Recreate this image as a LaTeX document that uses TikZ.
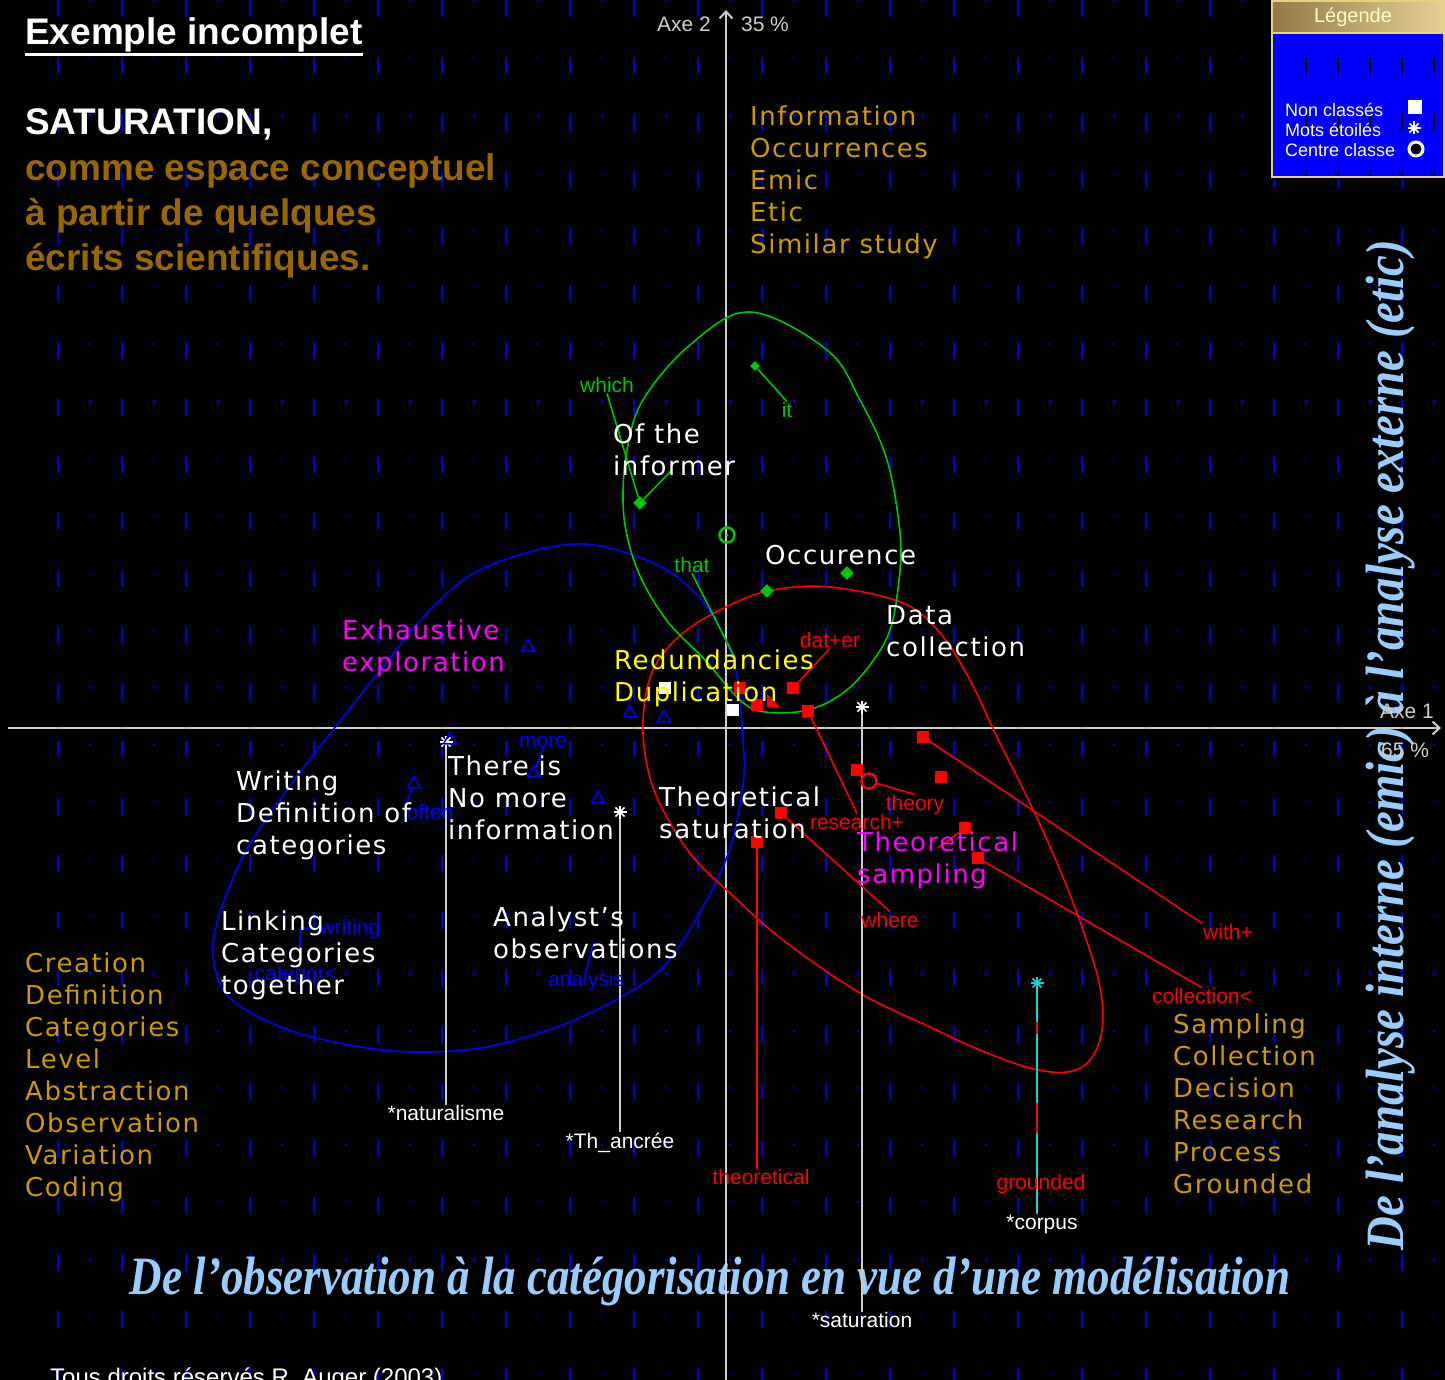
\documentclass[tikz,border=0pt]{standalone}
\usepackage{fontspec}
\usepackage{graphicx}
\usetikzlibrary{shapes.geometric,arrows.meta}
\newfontfamily\arialf{Liberation Sans}
\newfontfamily\verdf[LetterSpace=6]{DejaVu Sans}
\newfontfamily\timesf{Liberation Serif}
\newcommand\scrf{\timesf\bfseries\itshape\fontsize{54}{54}\selectfont}
\definecolor{gridblue}{RGB}{0,0,210}
\definecolor{gold}{RGB}{204,153,0}
\definecolor{brownt}{RGB}{153,102,0}
\definecolor{skyb}{RGB}{153,204,255}
\definecolor{axgrey}{RGB}{205,205,205}
\definecolor{grn}{RGB}{0,200,0}
\definecolor{cyn}{RGB}{0,220,220}
\definecolor{mag}{RGB}{255,0,255}
\definecolor{yel}{RGB}{255,255,0}
\definecolor{tickyel}{RGB}{200,200,0}
\definecolor{legblue}{RGB}{0,0,255}
\definecolor{legtanA}{RGB}{150,120,70}
\definecolor{legtanB}{RGB}{228,208,150}
\definecolor{legedge}{RGB}{230,210,120}
\tikzset{
  astk/.pic={\foreach \a in {0,45,90,135} \draw[line width=1.6pt] (\a:6.5pt) -- (\a+180:6.5pt);},
}

\begin{document}
\begin{tikzpicture}[x=1pt,y=-1pt,
  big/.style={font=\verdf\fontsize{26}{32}\selectfont, inner sep=0pt, align=left, anchor=north west},
  small/.style={font=\arialf\fontsize{21}{21}\selectfont, inner sep=0.5pt},
  axlab/.style={font=\arialf\fontsize{21}{21}\selectfont, text=axgrey, inner sep=0pt},
  legtxt/.style={font=\arialf\fontsize{18}{18}\selectfont, text=white, inner sep=0pt, anchor=west},
  griddash/.style={gridblue, line width=2.2pt, dash pattern=on 17pt off 40pt},
  griddot/.style={gridblue, line width=2.2pt, dash pattern=on 2.2pt off 55pt},
  axisln/.style={axgrey, line width=2pt, -{Straight Barb[length=7pt,width=13pt]}},
  wline/.style={axgrey, line width=2pt},
  rline/.style={red, line width=1.6pt},
  gline/.style={grn, line width=1.6pt},
  bline/.style={blue, line width=1.6pt},
  rsq/.style={rectangle, fill=red, minimum size=12pt, inner sep=0pt},
  wsq/.style={rectangle, fill=white, minimum size=12pt, inner sep=0pt},
  gdia/.style={diamond, fill=grn, minimum size=14pt, inner sep=0pt},
  btri/.style={regular polygon, regular polygon sides=3, draw=blue, line width=1.5pt, minimum size=15pt, inner sep=0pt},
]
% background and grid
\fill[black] (0,0) rectangle (1445,1380);
\useasboundingbox (0,0) rectangle (1445,1380);
\foreach \gx in {58,122,...,1402} \draw[griddash] (\gx,0) -- (\gx,1380);
\foreach \gx in {90,154,...,1434} \draw[griddot] (\gx,0) -- (\gx,1380);

% script headings
\node[text=skyb, inner sep=0pt] (scrBot) at (710,1281)
  {\resizebox{1160pt}{\height}{\scrf De l’observation à la catégorisation en vue d’une modélisation}};
\node[text=skyb, inner sep=0pt, rotate=90] (scrSide) at (1391,745)
  {\resizebox{1010pt}{\height}{\scrf De l’analyse interne (emic) à l’analyse externe (etic)}};

% axes
\coordinate (axHa) at (8,728);
\coordinate (axHb) at (1441,728);
\coordinate (axVa) at (726,1380);
\coordinate (axVb) at (726,10);
\draw[axisln] (axHa) -- (axHb);
\draw[axisln] (axVa) -- (axVb);
\foreach \gx in {58,122,...,1402} \fill[tickyel] (\gx-1,727) rectangle (\gx+1,729);
\node[axlab] (ax2n) at (684,24) {Axe 2};
\node[axlab] (ax2p) at (765,24) {35 \%};
\node[axlab] (ax1n) at (1407,711) {Axe 1};
\node[axlab] (ax1p) at (1405,750) {65 \%};

% class contours
\draw[blue, line width=1.6pt] plot[smooth cycle, tension=0.6] coordinates {
  (575,544) (646,560) (689,587) (718,625) (736,672) (743,740) (743,784) (729,851)
  (700,912) (664,966) (621,997) (557,1027) (486,1047) (421,1052) (361,1047) (289,1030)
  (232,1000) (214,963) (218,919) (246,851) (289,787) (336,726) (379,672) (432,608) (486,567)};
\draw[red, line width=1.6pt] plot[smooth cycle, tension=0.6] coordinates {
  (830,587) (903,603) (940,633) (970,680) (997,737) (1030,803) (1060,870) (1083,930)
  (1100,987) (1102,1030) (1090,1060) (1067,1072) (1030,1068) (980,1050) (930,1027)
  (860,993) (783,940) (730,893) (693,857) (663,810) (648,770) (643,720) (653,670)
  (683,633) (730,605) (773,590)};
\draw[grn, line width=1.6pt] plot[smooth cycle, tension=0.6] coordinates {
  (750,312) (827,350) (860,400) (887,460) (900,533) (899,580) (890,630) (870,665)
  (843,693) (808,710) (765,712) (740,700) (705,660) (668,622) (642,580) (628,540)
  (623,500) (627,450) (643,400) (690,345)};

% starred words
\coordinate (stNat) at (446,742);
\coordinate (stTh) at (620,812);
\coordinate (stSat) at (862,707);
\coordinate (stCorp) at (1037,983);
\node[small, text=white] (lbNat) at (446,1113) {*naturalisme};
\node[small, text=white] (lbTh) at (620,1143) {*Th\_ancrée};
\node[small, text=white] (lbSat) at (862,1320) {*saturation};
\node[small, text=white] (lbCorp) at (1042,1224) {*corpus};
\draw[wline] (stNat) -- (stNat |- lbNat.north);
\draw[wline] (stTh) -- (stTh |- lbTh.north);
\draw[wline] (stSat) -- (stSat |- lbSat.north);
\draw[cyn, line width=2pt] (stCorp) -- (stCorp |- lbCorp.north);
\draw[red, line width=2pt] (stCorp) ++(0,39) -- ++(0,12);
\draw[red, line width=2pt] (stCorp) ++(0,120) -- ++(0,30);
\pic[white] at (stNat) {astk};
\pic[white] at (stTh) {astk};
\pic[white] at (stSat) {astk};
\pic[cyn] at (stCorp) {astk};

% red class
\node[rsq] (rs1) at (740,688) {};
\node[rsq] (rs2) at (757,705) {};
\node[rsq] (rs3) at (793,688) {};
\node[rsq] (rs4) at (808,711) {};
\node[rsq] (rs5) at (923,737) {};
\node[rsq] (rs6) at (941,777) {};
\node[rsq] (rs7) at (857,770) {};
\node[rsq] (rs8) at (965,828) {};
\node[rsq] (rs9) at (978,858) {};
\node[rsq] (rs10) at (781,813) {};
\node[rsq] (rs11) at (757,842) {};
\fill[red] (767,694) -- (780,707) -- (767,707) -- cycle;
\node[circle, draw=red, line width=2.5pt, minimum size=15pt, inner sep=0pt] (rCen) at (869,781) {};
\coordinate (rEnd8) at (938,848);
\node[small, text=red] (lbDater) at (830,640) {dat+er};
\node[small, text=red] (lbTheory) at (915,805) {theory};
\node[small, text=red] (lbRes) at (857,822) {research+};
\node[small, text=red] (lbWhere) at (890,920) {where};
\node[small, text=red] (lbWith) at (1228,932) {with+};
\node[small, text=red] (lbColl) at (1202,996) {collection<};
\node[small, text=red] (lbTheo) at (761,1177) {theoretical};
\node[small, text=red] (lbGrnd) at (1041,1184) {grounded};
\draw[rline] (rs3) -- (lbDater.south);
\draw[rline] (rs4) -- (lbRes.north);
\draw[rline] (rs5) -- (lbWith.north west);
\draw[rline] (rCen) -- (lbTheory.north);
\draw[rline] (rs8) -- (rEnd8);
\draw[rline] (rs9) -- (lbColl.north);
\draw[rline] (rs10) -- (lbWhere.north);
\draw[red, line width=2pt] (rs11) -- (rs11 |- lbTheo.north);

% green class
\node[gdia] (gd1) at (640,503) {};
\node[gdia] (gd2) at (767,591) {};
\node[gdia] (gd3) at (847,573) {};
\node[gdia, minimum size=10pt] (gd4) at (755,366) {};
\node[circle, draw=grn, line width=2.5pt, minimum size=15pt, inner sep=0pt] (gCen) at (727,535) {};
\fill[grn] (gCen) circle (1.5pt);
\coordinate (gEnd1) at (672,470);
\coordinate (gEnd2) at (735,658);
\node[small, text=grn] (lbWhich) at (607,385) {which};
\node[small, text=grn] (lbIt) at (787,410) {it};
\node[small, text=grn] (lbThat) at (692,565) {that};
\draw[gline] (lbWhich.south) -- (gd1) -- (gEnd1);
\draw[gline] (gd4) -- (lbIt.north);
\draw[gline] (lbThat.south) -- (gEnd2);

% blue class
\node[btri] (bt1) at (528,647) {};
\node[btri] (bt2) at (414,784) {};
\node[btri] (bt3) at (598,799) {};
\node[btri] (bt4) at (630,713) {};
\node[btri] (bt5) at (664,718) {};
\node[btri] (bt6) at (450,740) {};
\node[btri] (bt7) at (534,773) {};
\coordinate (bEndA) at (594,942);
\coordinate (bW1) at (300,958);
\coordinate (bW2) at (300,928);
\node[small, text=blue] (lbMore) at (543,742) {more};
\node[small, text=blue] (lbOften) at (430,812) {often};
\node[small, text=blue] (lbWrit) at (350,929) {writing};
\node[small, text=blue] (lbCat) at (296,976) {categor<};
\node[small, text=blue] (lbAnal) at (586,981) {analysis};
\draw[bline] (bt2) -- (lbOften.north west);
\draw[bline] (lbMore.south) -- (bt7);
\draw[bline] (lbAnal.north) -- (bEndA);
\draw[bline] (bW1) -- (bW2) -- (lbWrit.west);

% unclassified
\node[wsq] (ws1) at (665,688) {};
\node[wsq] (ws2) at (733,710) {};

% concept labels
\node[big, text=gold] (kwInfo) at (750,106) {Information\\Occurrences\\Emic\\Etic\\Similar study};
\node[big, text=white] (kwInf) at (613,424) {Of the\\informer};
\node[big, text=white] (kwOcc) at (765,545) {Occurence};
\node[big, text=white] (kwData) at (886,605) {Data\\collection};
\node[big, text=mag] (kwExh) at (342,620) {Exhaustive\\exploration};
\node[big, text=yel] (kwRed) at (614,650) {Redundancies\\Duplication};
\node[big, text=white] (kwWrit) at (236,771) {Writing\\Definition of\\categories};
\node[big, text=white] (kwNoMore) at (448,756) {There is\\No more\\information};
\node[big, text=white] (kwSat) at (659,787) {Theoretical\\saturation};
\node[big, text=mag] (kwSamp) at (857,832) {Theoretical\\sampling};
\node[big, text=white] (kwLink) at (221,911) {Linking\\Categories\\together};
\node[big, text=white] (kwAnal) at (493,907) {Analyst’s\\observations};
\node[big, text=gold] (kwLeft) at (25,953) {Creation\\Definition\\Categories\\Level\\Abstraction\\Observation\\Variation\\Coding};
\node[big, text=gold] (kwRight) at (1173,1014) {Sampling\\Collection\\Decision\\Research\\Process\\Grounded};

% title block
\node[font=\arialf\bfseries\fontsize{37}{37}\selectfont, text=white, anchor=base west, inner sep=0pt] (ttlA) at (25,45) {Exemple incomplet};
\draw[white, line width=2.5pt] ([yshift=-1.5pt]ttlA.south west) -- ([yshift=-1.5pt]ttlA.south east);
\node[font=\arialf\bfseries\fontsize{37}{45}\selectfont, text=white, anchor=base west, inner sep=0pt] (ttlB) at (25,135) {SATURATION,};
\node[font=\arialf\bfseries\fontsize{37}{45}\selectfont, text=brownt, anchor=north west, inner sep=0pt, align=left] (ttlC) at (25,153)
  {comme espace conceptuel\\à partir de quelques\\écrits scientifiques.};
\node[font=\arialf\fontsize{24}{24}\selectfont, text=white, anchor=base west, inner sep=0pt] (copyR) at (50,1385) {Tous droits réservés R. Auger (2003)};

% legend
\shade[left color=legtanA, right color=legtanB] (1272,1) rectangle (1444,33);
\fill[legblue] (1272,33) rectangle (1444,177);
\begin{scope}
  \clip (1273,34) rectangle (1443,176);
  \foreach \gx in {1306,1338,...,1434} \draw[black, line width=2.2pt, dash pattern=on 17pt off 40pt] (\gx,0) -- (\gx,180);
\end{scope}
\draw[legedge, line width=2pt] (1272,1) rectangle (1444,177);
\draw[legedge, line width=1.5pt] (1272,33) -- (1444,33);
\node[font=\arialf\fontsize{20}{20}\selectfont, text=yel!20!white, inner sep=0pt] (legT) at (1353,17) {Légende};
\node[legtxt] (legA) at (1285,110) {Non classés};
\node[legtxt] (legB) at (1285,130) {Mots étoilés};
\node[legtxt] (legC) at (1285,150) {Centre classe};
\node[wsq, minimum size=14pt] (legSq) at (1415,107) {};
\coordinate (legSt) at (1414,128);
\pic[white] at (legSt) {astk};
\node[circle, draw=white, fill=black, line width=3pt, minimum size=14pt, inner sep=0pt] (legCc) at (1416,149) {};
\end{tikzpicture}
\end{document}
